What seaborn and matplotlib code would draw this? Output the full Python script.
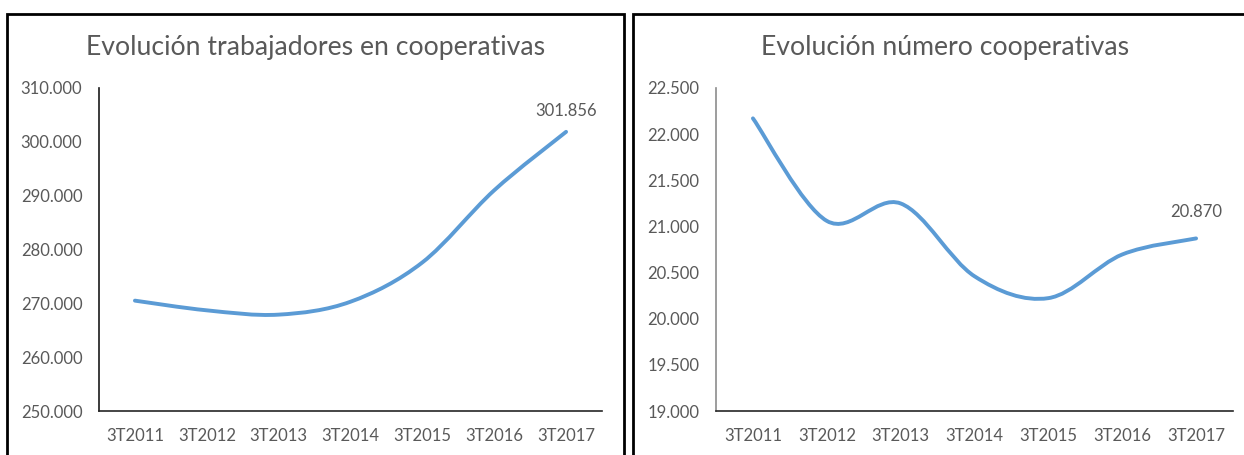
import matplotlib
matplotlib.use("Agg")
import matplotlib.pyplot as plt
import numpy as np
import seaborn as sns
from matplotlib.patches import PathPatch, Rectangle
from matplotlib.path import Path
from matplotlib.ticker import FuncFormatter

# Values (third quarter of every year)
quarters = ["3T2011", "3T2012", "3T2013", "3T2014", "3T2015", "3T2016", "3T2017"]
workers = [270500, 268700, 267900, 270300, 277600, 291000, 301856]
cooperatives = [22171, 21060, 21249, 20460, 20223, 20696, 20870]

LINE_COLOR = "#5b9bd5"
TEXT_COLOR = "#595959"
FIG_W, FIG_H = 1244, 455


# Spanish style thousands separator: 310.000
def thousands(value, pos=None):
    return f"{value:,.0f}".replace(",", ".")


# Excel draws "smoothed lines" as cubic bezier segments through every point
def smooth_path(xs, ys):
    px = np.concatenate([[xs[0]], xs, [xs[-1]]])
    py = np.concatenate([[ys[0]], ys, [ys[-1]]])
    verts = [(xs[0], ys[0])]
    codes = [Path.MOVETO]
    for i in range(len(xs) - 1):
        c1 = (xs[i] + (px[i + 2] - px[i]) / 6, ys[i] + (py[i + 2] - py[i]) / 6)
        c2 = (xs[i + 1] - (px[i + 3] - px[i + 1]) / 6, ys[i + 1] - (py[i + 3] - py[i + 1]) / 6)
        verts += [c1, c2, (xs[i + 1], ys[i + 1])]
        codes += [Path.CURVE4] * 3
    return Path(verts, codes)


def draw_panel(ax, values, ylim, ystep, ycolor, label_offset):
    positions = np.arange(len(quarters))
    sns.lineplot(x=positions, y=values, ax=ax, color=LINE_COLOR, linewidth=2.8)

    # swap the straight seaborn line for the smoothed one
    line = ax.lines[-1]
    xy = line.get_xydata()
    line.set_visible(False)
    ax.add_patch(PathPatch(smooth_path(xy[:, 0], xy[:, 1]), facecolor="none",
                           edgecolor=LINE_COLOR, linewidth=2.8, capstyle="round"))

    ax.set_xlim(-0.5, len(quarters) - 0.5)
    ax.set_ylim(*ylim)
    ax.set_yticks(np.arange(ylim[0], ylim[1] + 1, ystep))
    ax.yaxis.set_major_formatter(FuncFormatter(thousands))
    ax.set_xticks(positions)
    ax.set_xticklabels(quarters)
    ax.set_xlabel("")
    ax.set_ylabel("")

    ax.tick_params(axis="both", length=0, labelsize=12, labelcolor=TEXT_COLOR)
    ax.tick_params(axis="y", pad=12)
    ax.tick_params(axis="x", pad=12)

    sns.despine(ax=ax)
    ax.spines["left"].set_color(ycolor)
    ax.spines["bottom"].set_color("#262626")
    ax.spines["left"].set_linewidth(1.2)
    ax.spines["bottom"].set_linewidth(1.2)

    ax.annotate(thousands(values[-1]), (positions[-1], values[-1]), xytext=(0, label_offset),
                textcoords="offset points", ha="center", va="bottom",
                fontsize=12, color=TEXT_COLOR)


sns.set_theme(style="white")
plt.rcParams["font.family"] = ["Lato", "DejaVu Sans"]

fig = plt.figure(figsize=(FIG_W / 100, FIG_H / 100), dpi=100)

# axes boxes in pixel units of the original picture
ax_left = fig.add_axes([99 / FIG_W, 1 - 411 / FIG_H, 503 / FIG_W, 323 / FIG_H])
ax_right = fig.add_axes([716 / FIG_W, 1 - 411 / FIG_H, 517 / FIG_W, 323 / FIG_H])

draw_panel(ax_left, workers, (250000, 310000), 10000, "#1a1a1a", 9)
draw_panel(ax_right, cooperatives, (19000, 22500), 500, "#8c8c8c", 13)

fig.text(316 / FIG_W, 1 - 47 / FIG_H, "Evolución trabajadores en cooperativas",
         ha="center", va="center", fontsize=19.2, color=TEXT_COLOR)
fig.text(945 / FIG_W, 1 - 47 / FIG_H, "Evolución número cooperativas",
         ha="center", va="center", fontsize=19.2, color=TEXT_COLOR)

# black frames around each chart, cut by the bottom of the picture
for x0, x1 in [(7.5, 624.5), (632.5, 1260)]:
    fig.patches.append(Rectangle((x0 / FIG_W, -0.1), (x1 - x0) / FIG_W, 1.1 - 14 / FIG_H,
                                 transform=fig.transFigure, fill=False,
                                 edgecolor="black", linewidth=2))

fig.savefig("out.png", dpi=100)
